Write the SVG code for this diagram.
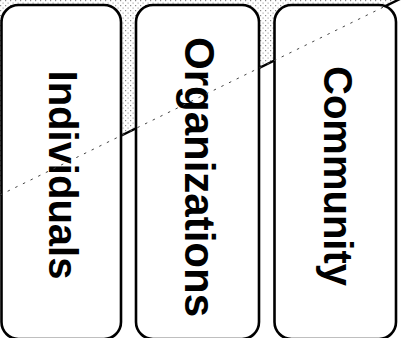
<svg xmlns="http://www.w3.org/2000/svg" width="404" height="338" viewBox="0 0 404 338">
  <style>
    .box { fill: #ffffff; stroke: #000000; stroke-width: 2.6; }
    .label { font-family: "Liberation Sans", Arial, sans-serif; font-weight: bold; fill: #000000; text-anchor: middle; }
    .solid { stroke: #000000; stroke-width: 2.4; fill: none; }
    .dash { stroke: #444444; stroke-width: 1; stroke-dasharray: 2.5 6; fill: none; }
  </style>
  <defs>
    <pattern id="stipple" width="5" height="5" patternUnits="userSpaceOnUse">
      <rect width="5" height="5" fill="#ffffff"/>
      <rect x="0" y="0" width="1.2" height="1.2" fill="#888888"/>
      <rect x="2.5" y="2.5" width="1.2" height="1.2" fill="#aaaaaa"/>
    </pattern>
  </defs>
  <rect x="0" y="0" width="404" height="338" fill="#ffffff"/>
  <polygon points="0,0 398,0 0,195" fill="url(#stipple)"/>
  <g id="connectors">
    <line class="solid" x1="0" y1="195" x2="404" y2="-3"/>
  </g>
  <g id="individuals">
    <rect class="box" x="1.5" y="5" width="119.5" height="334" rx="17"/>
    <text class="label" font-size="40" transform="translate(49,175) rotate(90)">Individuals</text>
  </g>
  <g id="organizations">
    <rect class="box" x="136" y="5" width="123" height="334" rx="17"/>
    <text class="label" font-size="42" transform="translate(185,177) rotate(90)">Organizations</text>
  </g>
  <g id="community">
    <rect class="box" x="274.5" y="5" width="121.5" height="334" rx="17"/>
    <text class="label" font-size="40" transform="translate(324,176) rotate(90)">Community</text>
  </g>
  <g id="connector-overlay">
    <line class="dash" x1="0" y1="195" x2="274" y2="60.7"/>
    <line class="dash" x1="274" y1="60.7" x2="384" y2="6.8"/>
  </g>
</svg>
